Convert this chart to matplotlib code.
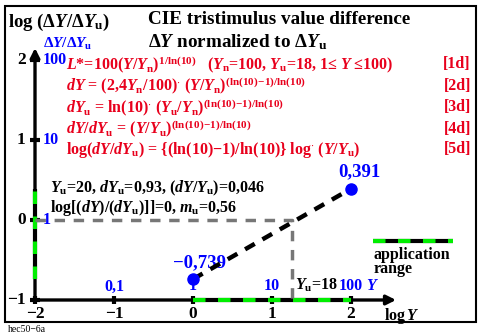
import numpy as np
import matplotlib
matplotlib.use('Agg')
import matplotlib.pyplot as plt
from matplotlib.patches import Rectangle

plt.rcParams['font.family'] = ['Liberation Serif', 'DejaVu Serif']
plt.rcParams['font.weight'] = 'bold'
plt.rcParams['mathtext.fontset'] = 'custom'
plt.rcParams['mathtext.rm'] = 'Liberation Serif:bold'
plt.rcParams['mathtext.it'] = 'Liberation Serif:italic:bold'
plt.rcParams['mathtext.bf'] = 'Liberation Serif:bold'

# data
x_ticks = [-2, -1, 0, 1, 2]
y_ticks = [-1, 0, 1, 2]
x_blue = ['0,1', '1', '10', '100']
y_blue = ['1', '10', '100']
pts_x = [0, 2]
pts_y = [-0.739, 0.391]
pts_lab = ['\u22120,739', '0,391']
Yu = 18
logYu = np.log10(Yu)
app_x = [0, 2]
app_y = [-0.739, 0.391]

W, H = 481, 336
fig = plt.figure(figsize=(W / 100, H / 100), dpi=100)
ax = fig.add_axes([0, 0, 1, 1])
# pixel -> data: x=(px-193)/79, y=(220-py)/80
ax.set_xlim((0 - 193) / 79, (W - 193) / 79)
ax.set_ylim((220 - H) / 80, (220 - 0) / 80)
ax.axis('off')

def P(px, py):
    return (px - 193) / 79, (220 - py) / 80

# frame
fig.patches.append(Rectangle((5 / W, 1 - 322 / H), 471 / W, 316 / H, transform=fig.transFigure,
                             fill=False, lw=1.5, ec='black'))

# axes with arrows
ax.annotate('', xy=(2.57, -1), xytext=(-2, -1),
            arrowprops=dict(arrowstyle='-|>', lw=2.4, color='black', mutation_scale=14, shrinkA=0, shrinkB=0))
ax.annotate('', xy=(-2, 2.15), xytext=(-2, -1),
            arrowprops=dict(arrowstyle='-|>', lw=2.4, color='black', mutation_scale=14, shrinkA=0, shrinkB=0))
for t in x_ticks:
    ax.plot([t, t], [-1.05, -0.95], color='black', lw=3, solid_capstyle='butt', zorder=4)
    ax.text(t, -1.08, str(t).replace('-', '\u2212'), ha='center', va='top', fontsize=12.5)
for t in y_ticks:
    ax.plot([-2.06, -1.94], [t, t], color='black', lw=3, solid_capstyle='butt', zorder=4)
    ax.text(-2.12, t, str(t).replace('-', '\u2212'), ha='right', va='center', fontsize=12.5)

# application range (green/black) on axes
ax.plot(app_x, [-1, -1], color='black', lw=3, solid_capstyle='butt', zorder=5)
ax.plot(app_x, [-1, -1], color='#00ee00', lw=3, dashes=(3, 3), zorder=6)
ax.plot([-2, -2], app_y, color='black', lw=3, solid_capstyle='butt', zorder=5)
ax.plot([-2, -2], app_y, color='#00ee00', lw=3, dashes=(3, 3), zorder=6)

# gray dashed for Yu
ax.plot([-2, logYu, logYu], [0, 0, -1], color='#777777', lw=2.5, dashes=(3, 2.5), zorder=7)

# black dashed line between points
ax.plot(pts_x, pts_y, color='black', lw=3.2, dashes=(2.5, 2), zorder=8)
ax.plot(pts_x, pts_y, 'o', color='blue', ms=8, zorder=9)
ax.text(pts_x[0] + 0.08, pts_y[0] + 0.1, pts_lab[0], color='blue', fontsize=13.5, ha='center', va='bottom')
ax.text(pts_x[1] + 0.1, pts_y[1] + 0.1, pts_lab[1], color='blue', fontsize=13.5, ha='center', va='bottom')

# blue labels along axes
for t, s in zip(x_ticks[1:], x_blue):
    ax.text(t, -0.93, s, color='blue', fontsize=11.5, ha='center', va='bottom')
ax.text(2.27, -0.93, '$Y$', color='blue', fontsize=11.5, ha='center', va='bottom')
ax.text(logYu + 0.03, -0.93, '$Y_{\\mathrm{u}}$=18', color='black', fontsize=11.5, ha='left', va='bottom')
for t, s in zip(y_ticks[1:], y_blue):
    ax.text(-1.9, t, s, color='blue', fontsize=11.5, ha='left', va='center')
ax.text(*P(43, 44), '$\\Delta Y/\\Delta Y_{\\mathrm{u}}$', color='blue', fontsize=11, ha='left', va='center')
ax.text(*P(384, 316), 'log$\\,Y$', color='black', fontsize=11.5, ha='left', va='center')

# titles
ax.text(*P(8, 22), 'log ($\\Delta Y/\\Delta Y_{\\mathrm{u}}$)', fontsize=13.5, ha='left', va='center')
ax.text(*P(148, 20), 'CIE tristimulus value difference', fontsize=13.8, ha='left', va='center')
ax.text(*P(148, 42), '$\\Delta Y$ normalized to $\\Delta Y_{\\mathrm{u}}$', fontsize=13.8, ha='left', va='center')

# red formulas
red = '#e8001c'
fs = 11.5
ex = '^{(\\mathrm{ln(10)\\!\u2212\\!1)/ln(10)}}$'
ax.text(*P(66, 65), '$L$*=100($Y$/$Y_{\\mathrm{n}})^{1/\\mathrm{ln(10)}}$', color=red, fontsize=fs, ha='left', va='center')
ax.text(*P(207, 65), '($Y_{\\mathrm{n}}$=100, $Y_{\\mathrm{u}}$=18, 1\u2264 $Y$ \u2264100)', color=red, fontsize=fs, ha='left', va='center')
ax.text(*P(66, 86), '$dY$ = (2,4$Y_{\\mathrm{n}}$/100)$^{\\cdot}$ ($Y$/$Y_{\\mathrm{n}})' + ex,
        color=red, fontsize=fs, ha='left', va='center')
ax.text(*P(66, 108), '$dY_{\\mathrm{u}}$ = ln(10)$^{\\cdot}$ ($Y_{\\mathrm{u}}$/$Y_{\\mathrm{n}})' + ex,
        color=red, fontsize=fs, ha='left', va='center')
ax.text(*P(66, 129), '$dY/dY_{\\mathrm{u}}$ = ($Y$/$Y_{\\mathrm{u}})' + ex,
        color=red, fontsize=fs, ha='left', va='center')
ax.text(*P(66, 150), 'log($dY/dY_{\\mathrm{u}}$) = {(ln(10)\u22121)/ln(10)} log$^{\\cdot}$ ($Y$/$Y_{\\mathrm{u}}$)',
        color=red, fontsize=fs, ha='left', va='center')
for py, s in zip([64, 86, 107, 129, 149], ['[1d]', '[2d]', '[3d]', '[4d]', '[5d]']):
    ax.text(*P(471, py), s, color=red, fontsize=fs, ha='right', va='center')

# black notes
ax.text(*P(50, 188), '$Y_{\\mathrm{u}}$=20, $dY_{\\mathrm{u}}$=0,93, ($dY/Y_{\\mathrm{u}}$)=0,046', fontsize=fs, ha='left', va='center')
ax.text(*P(50, 208), 'log[($dY$)/($dY_{\\mathrm{u}}$)]]=0, $m_{\\mathrm{u}}$=0,56', fontsize=fs, ha='left', va='center')

# legend
lx = [(373 - 193) / 79, (453 - 193) / 79]
ly = (220 - 241) / 80
ax.plot(lx, [ly, ly], color='black', lw=3, solid_capstyle='butt')
ax.plot(lx, [ly, ly], color='#00ee00', lw=3, dashes=(3, 3))
ax.text(*P(374, 262), 'application\nrange', fontsize=11.5, ha='left', va='center', linespacing=0.85)

ax.text(*P(8, 329), 'hec50\u22126a', fontsize=7, fontweight='normal', ha='left', va='center')

plt.savefig('out.png', dpi=100)
